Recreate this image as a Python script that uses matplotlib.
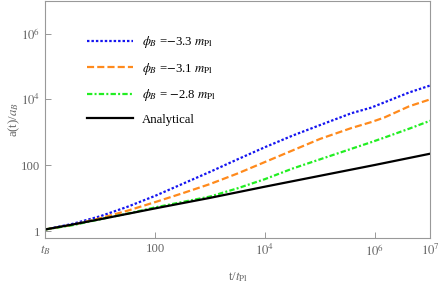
#!/usr/bin/env python3
"""Scale factor after the bounce: numerical runs vs analytical curve (log-log)."""

import matplotlib
matplotlib.use('Agg')
import matplotlib.pyplot as plt
import numpy as np

# log10(t / t_Pl) sample points
log_t_blue = [0, 0.5, 1, 1.5, 2, 3, 3.5, 4, 4.5, 5, 5.57, 5.93, 6.17, 6.62, 7]
log_a_blue = [0.05, 0.22, 0.45, 0.74, 1.07, 1.80, 2.18, 2.55, 2.90, 3.22, 3.58, 3.75, 3.91, 4.21, 4.42]

log_t_orange = [0, 0.5, 1, 1.5, 2, 2.5, 3, 3.5, 4, 4.5, 5, 5.57, 5.93, 6.17, 6.62, 7]
log_a_orange = [0.05, 0.19, 0.39, 0.62, 0.88, 1.15, 1.43, 1.75, 2.10, 2.45, 2.80, 3.13, 3.31, 3.45, 3.79, 4.00]

log_t_green = [0, 0.5, 1, 1.5, 2, 3, 3.5, 4, 4.5, 5, 5.57, 5.93, 6.17, 6.62, 7]
log_a_green = [0.05, 0.18, 0.36, 0.53, 0.72, 1.05, 1.30, 1.58, 1.90, 2.18, 2.50, 2.70, 2.84, 3.11, 3.35]

log_t_analytic = [0, 0.5, 1, 2, 3, 4, 5, 6, 7]
log_a_analytic = [0.05, 0.20, 0.36, 0.69, 1.01, 1.35, 1.68, 2.01, 2.35]

labels = [r'$\phi_B$ =$-$3.3 $m_{\rm Pl}$',
          r'$\phi_B$ =$-$3.1 $m_{\rm Pl}$',
          r'$\phi_B$ = $-$2.8 $m_{\rm Pl}$',
          'Analytical']

x_ticks = [1, 1e2, 1e4, 1e6, 1e7]
x_tick_labels = [r'$t_B$', '100', r'$10^4$', r'$10^6$', r'$10^7$']
y_ticks = [1, 1e2, 1e4, 1e6]
y_tick_labels = ['1', '100', r'$10^4$', r'$10^6$']

plt.rcParams['font.family'] = ['Liberation Serif', 'DejaVu Serif']
plt.rcParams['mathtext.fontset'] = 'stix'

GRAY = '#666666'

fig = plt.figure(figsize=(4.42, 2.86), dpi=100)
ax = fig.add_axes([0.102, 0.168, 0.871, 0.830])

series = [
    (log_t_blue, log_a_blue, '#1414f0', (0, (1.1, 0.9))),
    (log_t_orange, log_a_orange, '#ff8a1c', (0, (3.2, 1.4))),
    (log_t_green, log_a_green, '#22ee22', (0, (2.4, 1.0, 0.9, 1.0))),
    (log_t_analytic, log_a_analytic, 'black', '-'),
]
for (lt, la, col, ls), lab in zip(series, labels):
    ax.plot(10 ** np.array(lt), 10 ** np.array(la), color=col, ls=ls,
            lw=1.6, label=lab)

ax.set_xscale('log')
ax.set_yscale('log')
ax.set_xlim(1, 1e7)
ax.set_ylim(0.62, 1e7)

ax.set_xticks(x_ticks)
ax.set_xticklabels(x_tick_labels)
ax.set_yticks(y_ticks)
ax.set_yticklabels(y_tick_labels)
ax.minorticks_off()
ax.tick_params(direction='in', length=4, width=0.6, colors='#888888',
               labelcolor=GRAY, labelsize=9.2)

for sp in ax.spines.values():
    sp.set_color('#999999')
    sp.set_linewidth(0.8)

ax.set_xlabel(r't/$t_{\rm Pl}$', color=GRAY, fontsize=9.2, labelpad=8)
ax.set_ylabel(r'a(t)/$a_B$', color=GRAY, fontsize=9.2, labelpad=-1)

ax.legend(loc='upper left', bbox_to_anchor=(0.095, 0.88), frameon=False,
          fontsize=9.2, handlelength=3.6, labelspacing=0.82,
          handletextpad=0.7, borderaxespad=0)

plt.savefig('out.png', dpi=100, facecolor='white')
plt.close()
